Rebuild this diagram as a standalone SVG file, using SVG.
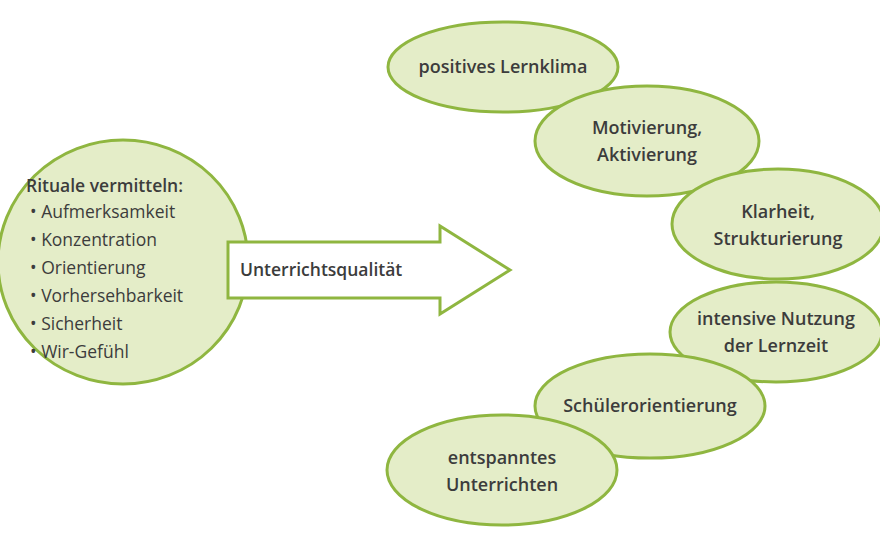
<svg xmlns="http://www.w3.org/2000/svg" width="880" height="540" viewBox="0 0 880 540">
<style>
.n{fill:#e4edc8;stroke:#8fb640;stroke-width:3}
.t{font-family:"Open Sans","Liberation Sans",sans-serif;font-size:18px;fill:#3c3c3c;font-weight:600;text-anchor:middle}
.l{font-family:"Open Sans","Liberation Sans",sans-serif;font-size:17.5px;fill:#3c3c3c}
</style>
<rect width="880" height="540" fill="#fff"/>
<g id="rituale">
<ellipse class="n" cx="123" cy="262" rx="125" ry="122"/>
<text class="l" x="26" y="192" font-weight="600">Rituale vermitteln:</text>
<text class="l" x="30" y="218">•  Aufmerksamkeit</text>
<text class="l" x="30" y="246">•  Konzentration</text>
<text class="l" x="30" y="274">•  Orientierung</text>
<text class="l" x="30" y="302">•  Vorhersehbarkeit</text>
<text class="l" x="30" y="330">•  Sicherheit</text>
<text class="l" x="30" y="358">•  Wir-Gefühl</text>
</g>
<g id="connectors">
<path d="M228,242 H440 V226 L510,270 L440,314 V298 H228 Z" fill="#fff" stroke="#8fb640" stroke-width="3"/>
<text class="l" x="240" y="276" font-weight="600">Unterrichtsqualität</text>
</g>
<g id="n1"><ellipse class="n" cx="503" cy="67" rx="115" ry="45"/><text class="t" x="503" y="73">positives Lernklima</text></g>
<g id="n2"><ellipse class="n" cx="647" cy="141" rx="112" ry="55"/><text class="t" x="647" y="134">Motivierung,</text><text class="t" x="647" y="161">Aktivierung</text></g>
<g id="n3"><ellipse class="n" cx="778" cy="224" rx="106" ry="55"/><text class="t" x="778" y="218">Klarheit,</text><text class="t" x="778" y="245">Strukturierung</text></g>
<g id="n4"><ellipse class="n" cx="776" cy="332" rx="106" ry="50"/><text class="t" x="776" y="325">intensive Nutzung</text><text class="t" x="776" y="352">der Lernzeit</text></g>
<g id="n5"><ellipse class="n" cx="650" cy="406" rx="115" ry="52"/><text class="t" x="650" y="412">Schülerorientierung</text></g>
<g id="n6"><ellipse class="n" cx="502" cy="470" rx="115" ry="55"/><text class="t" x="502" y="464">entspanntes</text><text class="t" x="502" y="491">Unterrichten</text></g>
</svg>
